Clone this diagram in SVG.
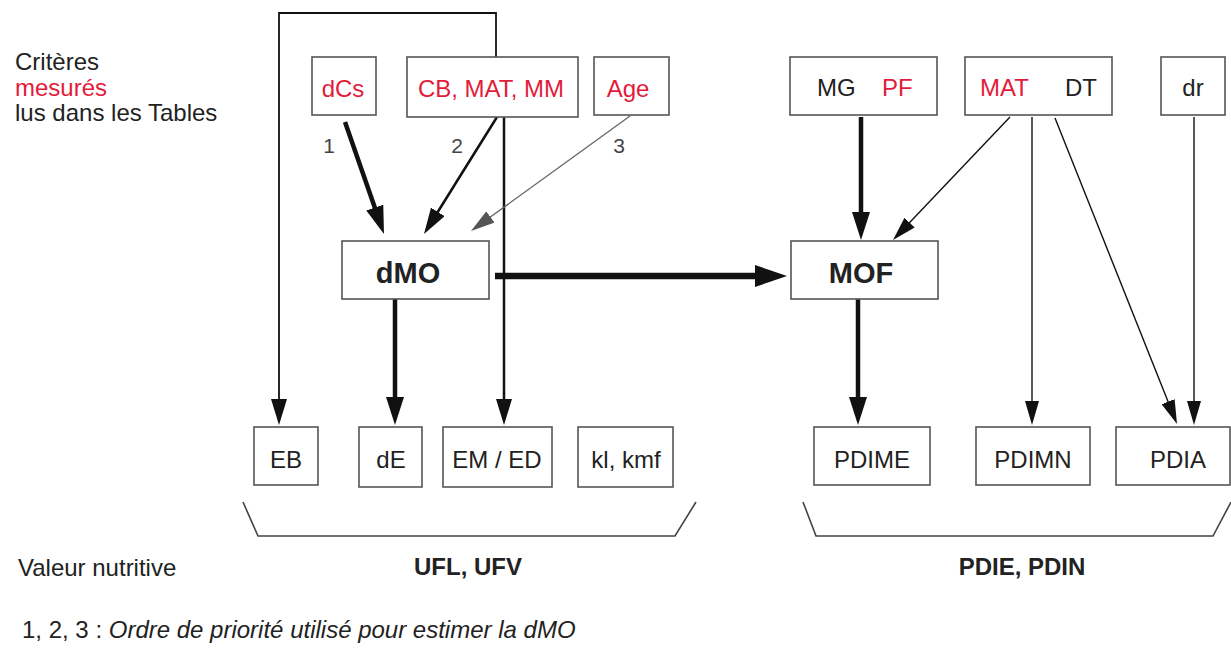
<svg xmlns="http://www.w3.org/2000/svg" width="1231" height="655" viewBox="0 0 1231 655">
<style>
text{font-family:"Liberation Sans",Arial,sans-serif;font-size:24px;fill:#222}
.red{fill:#e31b3b}
.b{font-weight:bold}
.box{fill:#fff;stroke:#555;stroke-width:1.6}
.mid{text-anchor:middle}
.num{fill:#444;font-size:21px}
.c{fill:none;stroke:#111}
.thick{stroke-width:4.5}
.xthick{stroke-width:6.5}
.med{stroke-width:2.5}
.thin{stroke-width:1.4}
.loop{stroke-width:1.8}
.gray{stroke:#666;stroke-width:1.4}
.brk{fill:none;stroke:#444;stroke-width:1.6}
</style>
<defs>
<marker id="hBig" viewBox="0 0 28 18" markerWidth="28" markerHeight="18" refX="8" refY="9" orient="auto" markerUnits="userSpaceOnUse"><path d="M0,0 L28,9 L0,18 z" fill="#111"/></marker>
<marker id="hMed" viewBox="0 0 26 16" markerWidth="26" markerHeight="16" refX="6" refY="8" orient="auto" markerUnits="userSpaceOnUse"><path d="M0,0 L26,8 L0,16 z" fill="#111"/></marker>
<marker id="hThin" viewBox="0 0 24 14" markerWidth="24" markerHeight="14" refX="4" refY="7" orient="auto" markerUnits="userSpaceOnUse"><path d="M0,0 L24,7 L0,14 z" fill="#111"/></marker>
<marker id="hGray" viewBox="0 0 24 14" markerWidth="24" markerHeight="14" refX="4" refY="7" orient="auto" markerUnits="userSpaceOnUse"><path d="M0,0 L24,7 L0,14 z" fill="#555"/></marker>
<marker id="hWide" viewBox="0 0 32 22" markerWidth="32" markerHeight="22" refX="8" refY="11" orient="auto" markerUnits="userSpaceOnUse"><path d="M0,0 L32,11 L0,22 z" fill="#111"/></marker>
</defs>
<rect width="1231" height="655" fill="#fff"/>

<g id="legend-top">
<text x="15" y="70">Critères</text>
<text x="15" y="96" class="red">mesurés</text>
<text x="15" y="121">lus dans les Tables</text>
</g>

<g id="connectors">
<path class="c loop" d="M496,57 V13 H279 V405" marker-end="url(#hMed)"/>
<path class="c thick" d="M395,299 V405" marker-end="url(#hBig)"/>
<path class="c med" d="M504,117 V405" marker-end="url(#hMed)"/>
<path class="c thick" d="M858,299 V405" marker-end="url(#hBig)"/>
<path class="c thin" d="M1032,117 V405" marker-end="url(#hThin)"/>
<path class="c thin" d="M1194,117 V405" marker-end="url(#hThin)"/>
<path class="c thin" d="M1055,118 L1169.6,405.4" marker-end="url(#hThin)"/>
<path class="c thin" d="M1010,117 L906.8,225.5" marker-end="url(#hThin)"/>
<path class="c thick" d="M861,117 V220" marker-end="url(#hBig)"/>
<path class="c xthick" d="M495,276 H763" marker-end="url(#hWide)"/>
<path class="c thick" d="M345,122 L377.4,215.1" marker-end="url(#hBig)"/>
<path class="c med" d="M497,117 L434.6,217" marker-end="url(#hMed)"/>
<path class="c gray" d="M630,116 L487.2,219.3" marker-end="url(#hGray)"/>
<text x="329" y="153" class="num mid">1</text>
<text x="457" y="153" class="num mid">2</text>
<text x="619" y="153" class="num mid">3</text>
</g>

<g id="n-dCs"><rect class="box" x="312" y="57" width="64" height="58"/><text x="343" y="97" class="red mid">dCs</text></g>
<g id="n-CB"><rect class="box" x="407" y="57" width="171" height="60"/><text x="491" y="97" class="red mid">CB, MAT, MM</text></g>
<g id="n-Age"><rect class="box" x="594" y="57" width="75" height="58"/><text x="628" y="97" class="red mid">Age</text></g>
<g id="n-MGPF"><rect class="box" x="790" y="57" width="147" height="58"/><text x="817" y="96">MG</text><text x="882" y="96" class="red">PF</text></g>
<g id="n-MATDT"><rect class="box" x="965" y="57" width="147" height="58"/><text x="980" y="96" class="red">MAT</text><text x="1065" y="96">DT</text></g>
<g id="n-dr"><rect class="box" x="1161" y="57" width="64" height="58"/><text x="1193" y="96" class="mid">dr</text></g>

<g id="n-dMO"><rect class="box" x="342" y="241" width="147" height="58"/><text x="408" y="283" class="b mid" style="font-size:29px">dMO</text></g>
<g id="n-MOF"><rect class="box" x="791" y="241" width="147" height="58"/><text x="861" y="283" class="b mid" style="font-size:29px">MOF</text></g>

<g id="n-EB"><rect class="box" x="254" y="427" width="64" height="58"/><text x="286" y="468" class="mid">EB</text></g>
<g id="n-dE"><rect class="box" x="359" y="427" width="63" height="60"/><text x="391" y="468" class="mid">dE</text></g>
<g id="n-EMED"><rect class="box" x="443" y="427" width="109" height="60"/><text x="497" y="468" class="mid">EM / ED</text></g>
<g id="n-klkmf"><rect class="box" x="578" y="427" width="95" height="60"/><text x="626" y="468" class="mid">kl, kmf</text></g>
<g id="n-PDIME"><rect class="box" x="814" y="427" width="116" height="58"/><text x="872" y="468" class="mid">PDIME</text></g>
<g id="n-PDIMN"><rect class="box" x="976" y="427" width="114" height="58"/><text x="1033" y="468" class="mid">PDIMN</text></g>
<g id="n-PDIA"><rect class="box" x="1116" y="427" width="114" height="58"/><text x="1178" y="468" class="mid">PDIA</text></g>

<g id="brackets">
<path class="brk" d="M243,502 L258,536 H675 L696,502"/>
<path class="brk" d="M803,502 L816,536 H1213 L1231,502"/>
<text x="468" y="575" class="b mid">UFL, UFV</text>
<text x="1022" y="575" class="b mid">PDIE, PDIN</text>
</g>

<g id="legend-bottom">
<text x="18" y="576">Valeur nutritive</text>
<text x="22" y="638">1, 2, 3 : <tspan font-style="italic">Ordre de priorité utilisé pour estimer la dMO</tspan></text>
</g>
</svg>
